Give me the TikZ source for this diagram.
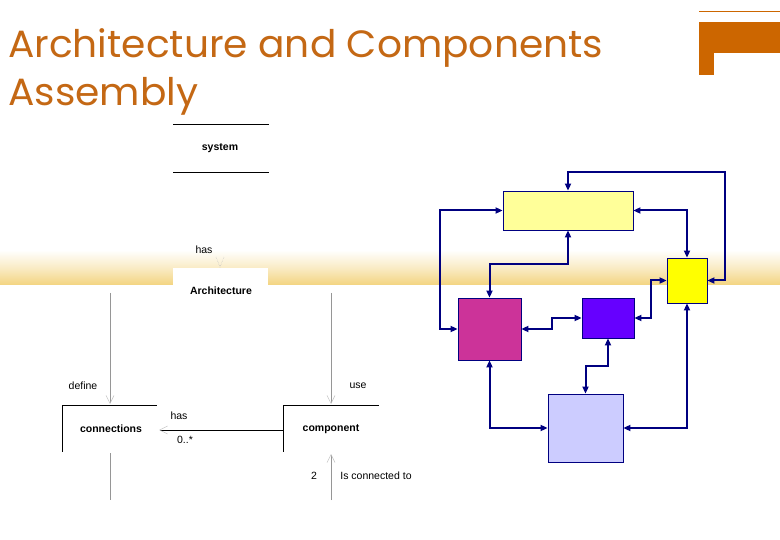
\documentclass[tikz,border=0pt]{standalone}
\usepackage{fontspec}
\setmainfont{Liberation Sans}
\newfontfamily\titlefont{Poppins}
\usetikzlibrary{arrows.meta,calc}
\definecolor{titleorange}{RGB}{196,104,20}
\definecolor{decororange}{RGB}{204,102,0}
\definecolor{bandgold}{RGB}{243,212,128}
\definecolor{navy}{RGB}{0,0,128}
\definecolor{paleyellow}{RGB}{255,255,153}
\definecolor{brightyellow}{RGB}{255,255,0}
\definecolor{magentabox}{RGB}{204,51,153}
\definecolor{purplebox}{RGB}{102,0,255}
\definecolor{lavenderbox}{RGB}{204,204,255}
\definecolor{umlgray}{RGB}{150,150,150}
\tikzset{
  colorbox/.style={draw=navy, line width=0.8pt, inner sep=0pt, minimum width=#1},
  conn/.style={draw=navy, line width=2pt, {Triangle[length=7pt,width=6pt]}-{Triangle[length=7pt,width=6pt]}},
  umlname/.style={font=\fontsize{10.5}{12}\selectfont\bfseries, inner sep=1pt},
  umllabel/.style={font=\fontsize{10.5}{12}\selectfont, inner sep=1pt},
  umlline/.style={draw=umlgray, line width=0.8pt},
  umlarrow/.style={draw=umlgray, line width=0.8pt, -{Straight Barb[length=8pt,width=8pt,line width=0.5pt,color=umlgray!60]}},
  umledge/.style={draw=black, line width=0.7pt},
  titletext/.style={anchor=base west, inner sep=0pt, text=titleorange, xscale=1.03, font=\titlefont\fontsize{38}{46}\selectfont},
}
\begin{document}
\begin{tikzpicture}[x=1pt,y=-1pt]
\useasboundingbox (0,0) rectangle (780,540);
\fill[white] (0,0) rectangle (780,540);
% background band
\shade[top color=white, bottom color=bandgold, middle color=bandgold!45] (0,250) rectangle (780,285);
% decoration top right
\draw[decororange, line width=0.8pt] (699,11) -- (780,11);
\fill[decororange] (699,22) rectangle (780,53);
\fill[decororange] (699,53) rectangle (714,75);
% title
\node[titletext] (title1) at (8,58) {Architecture and Components};
\node[titletext] (title2) at (8,106) {Assembly};

% ---------------- UML part ----------------
\node[umlname] (system) at (220,148) {system};
\draw[umledge] (173,124) -- (269,124);
\draw[umledge] (173,172) -- (269,172);
\node[umllabel] (hasA) at (204,250) {has};
\coordinate (archtop) at (220,267);
\draw[umlgray!60, line width=0.5pt, densely dotted] (216,257) -- (archtop) -- (224,257);
\fill[white] (173,268) rectangle (268,300);
\node[umlname] (arch) at (221,291) {Architecture};

\node[umlname] (conns) at (111,429) {connections};
\node[umlname] (comp) at (331,429) {component};
\draw[umledge] (62,405) -- (157,405);
\draw[umledge] (62,405) -- (62,452);
\draw[umledge] (283,405) -- (379,405);
\draw[umledge] (283,405) -- (283,452);

\coordinate (defA) at (110,293);
\coordinate (defB) at (110,404);
\coordinate (useA) at (331,293);
\coordinate (useB) at (331,404);
\draw[umlarrow] (defA) -- (defB);
\draw[umlarrow] (useA) -- (useB);
\node[umllabel] (define) at (83,386) {define};
\node[umllabel] (use) at (358,386) {use};

\coordinate (hasend) at (159,430);
\draw[umledge, -{Straight Barb[length=8pt,width=8pt,line width=0.5pt,color=umlgray!60]}] (283,430) -- (hasend);
\node[umllabel] (hasB) at (179,416) {has};
\node[umllabel] (mult) at (185,440) {0..*};

\coordinate (below1) at (110,453);
\coordinate (below2) at (110,500);
\draw[umlline] (below1) -- (below2);
\coordinate (isA) at (331,500);
\coordinate (isB) at (331,454);
\draw[umlarrow] (isA) -- (isB);
\node[umllabel] (two) at (314,476) {2};
\node[umllabel] (isconn) at (376,476) {Is connected to};

% ---------------- box diagram ----------------
\node[colorbox=130pt, minimum height=39pt, fill=paleyellow] (ly) at (568,210.5) {};
\node[colorbox=40pt, minimum height=45pt, fill=brightyellow] (ys) at (687,280.5) {};
\node[colorbox=63pt, minimum height=62pt, fill=magentabox] (mg) at (489.5,329) {};
\node[colorbox=52pt, minimum height=40pt, fill=purplebox] (pu) at (608,318) {};
\node[colorbox=75pt, minimum height=68pt, fill=lavenderbox] (lv) at (585.5,428) {};

\draw[conn] (ys.east) -- (725,280.5) -- (725,172) -| (ly.north);
\draw[conn] (ly.east) -| (ys.north);
\draw[conn] (ly.west) -- (440,210.5) |- (mg.west);
\draw[conn] (ly.south) -- (568,264) -| (mg.north);
\draw[conn] (mg.east) -- (552,329) |- (pu.west);
\draw[conn] (pu.east) -- (651,318) |- (ys.west);
\draw[conn] (pu.south) -- (608,366) -| (lv.north);
\draw[conn] (mg.south) |- (lv.west);
\draw[conn] (ys.south) |- (lv.east);
\end{tikzpicture}
\end{document}
